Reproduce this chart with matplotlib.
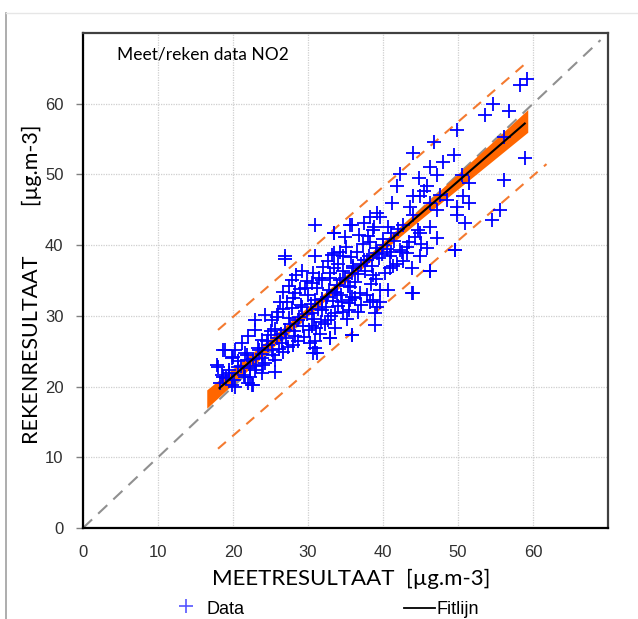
import matplotlib
matplotlib.use("Agg")
import matplotlib.pyplot as plt
from matplotlib.lines import Line2D
import numpy as np

# ---------------- data ----------------
meet = [
    58.3, 59.2, 54.7, 53.6, 56.8, 49.8, 46.8, 44.0, 56.1, 58.9, 49.5, 48.0, 46.3, 47.2, 42.2, 41.8,
    44.8, 45.8, 45.4, 50.5, 51.5, 56.1, 44.9, 44.0, 47.6, 48.5, 46.3, 41.2, 43.6, 50.7, 51.5, 49.8,
    47.2, 49.8, 55.6, 54.5, 50.9, 44.0, 39.2, 39.6, 38.3, 37.4, 35.6, 33.4, 34.9, 36.8, 38.7, 40.7,
    42.7, 44.7, 46.3, 44.9, 47.2, 45.8, 49.6, 43.2, 42.3, 40.0, 38.3, 39.2, 44.9, 42.7, 40.9, 43.8,
    46.3, 37.4, 36.0, 34.7, 33.4, 34.0, 38.7, 39.6, 43.8, 40.7, 38.7, 36.9, 35.6, 34.3, 39.2, 35.6,
    33.8, 32.9, 40.9, 41.8, 43.2,
    26.9, 30.9, 29.2, 33.2, 27.8, 26.7, 28.3, 29.6, 30.5, 31.8, 30.9, 32.5, 33.6, 34.5, 35.8, 35.4,
    33.6, 31.8, 32.7, 30.5, 29.2, 27.8, 26.3, 26.0, 27.4, 28.7, 25.2, 24.3, 22.9, 25.6, 26.9, 24.7,
    22.9, 22.0, 23.8, 26.5, 28.3, 30.5, 30.9, 32.9, 31.2, 35.8, 21.2, 20.3, 18.9, 21.6, 23.4, 25.2,
    19.8, 22.0, 23.8, 25.6, 18.0, 19.4, 20.7, 22.9, 25.6, 18.5, 19.8, 21.6, 22.0, 20.3, 22.7, 23.8,
    24.3,
    18.7, 17.8, 20.0, 22.5, 22.3, 19.8, 18.7, 30.9, 26.9, 33.4, 35.8, 35.9, 32.9, 30.9, 30.7, 38.9,
    38.9, 39.6, 44.0, 46.3, 49.6,
    24.5, 25.1, 25.8, 26.4, 27.0, 27.6, 28.1, 28.8, 29.3, 29.9, 30.4, 30.8, 31.3, 31.9, 32.4, 32.8,
    33.3, 33.9, 34.4, 34.9, 35.3, 35.8, 36.2, 36.7, 37.1, 37.6, 38.1, 38.5, 39.0, 39.4, 40.0, 40.5,
    41.0, 41.5, 42.0, 23.3, 23.9, 24.6, 22.6, 21.8, 21.0, 20.6, 19.5, 19.0, 18.3, 20.1, 21.4, 22.2,
    23.1, 24.0, 25.3, 26.1, 26.7, 27.3, 28.0, 28.6, 29.4, 30.1, 31.0, 31.7, 32.2, 33.0, 34.0, 34.7,
    35.5, 36.3, 37.0, 37.8, 38.4, 39.1, 40.2, 41.3, 42.5, 43.4, 44.2, 45.1, 25.9, 26.6, 27.2, 28.0,
    28.9, 29.8, 30.6, 31.4, 32.0, 32.7, 33.5, 34.2, 35.0, 35.7, 36.5, 37.3, 38.0, 38.8, 27.5, 28.4,
    29.0, 30.0, 31.2, 32.9, 34.6, 36.0, 37.9, 39.8, 41.1, 30.2, 31.6, 33.6, 35.2, 36.6, 38.3,
]
reken = [
    62.7, 63.5, 59.9, 58.4, 59.0, 56.3, 54.6, 53.0, 55.3, 52.3, 52.7, 51.8, 51.1, 49.9, 50.1, 48.3,
    49.5, 48.3, 47.6, 49.9, 48.8, 49.2, 46.9, 46.9, 47.1, 46.4, 45.9, 45.9, 45.4, 46.9, 45.9, 45.4,
    45.0, 44.3, 45.0, 43.6, 43.1, 44.3, 44.5, 44.0, 44.0, 43.1, 42.9, 41.7, 41.2, 41.4, 42.1, 42.6,
    42.9, 42.1, 42.6, 41.7, 41.0, 39.6, 39.3, 39.8, 39.3, 40.0, 40.5, 38.9, 38.4, 37.7, 36.7, 36.7,
    36.3, 37.9, 37.0, 38.4, 38.9, 37.4, 35.8, 33.7, 33.2, 33.7, 32.2, 33.2, 34.1, 35.1, 31.3, 32.2,
    33.2, 36.0, 38.4, 37.4, 38.9,
    38.1, 38.4, 36.3, 38.6, 35.1, 33.4, 33.2, 33.9, 34.6, 35.1, 32.2, 32.7, 33.4, 32.0, 32.7, 30.8,
    30.4, 30.8, 29.4, 30.4, 31.3, 31.1, 32.0, 30.6, 29.7, 29.4, 29.4, 30.1, 29.4, 28.2, 28.0, 27.3,
    28.0, 27.1, 26.6, 26.1, 27.1, 28.5, 26.4, 26.8, 24.7, 27.3, 26.1, 25.2, 25.2, 24.7, 25.2, 25.2,
    24.0, 23.8, 24.0, 23.8, 22.8, 22.3, 22.8, 22.3, 22.1, 21.6, 20.9, 21.4, 20.5, 20.0, 20.2, 21.9,
    23.3,
    25.2, 23.1, 24.2, 20.2, 21.4, 20.2, 21.4, 42.9, 38.5, 41.7, 42.9, 27.3, 26.8, 25.4, 24.7, 28.7,
    30.4, 32.0, 33.2, 36.3, 39.3,
    26.5, 27.8, 26.9, 27.5, 26.8, 28.9, 27.9, 29.9, 28.6, 30.2, 31.7, 29.5, 30.9, 32.4, 31.3, 33.6,
    32.1, 34.3, 33.0, 35.4, 34.2, 36.1, 34.8, 35.9, 37.4, 36.4, 38.5, 37.1, 39.6, 38.2, 40.8, 39.4,
    41.7, 40.6, 42.3, 25.4, 24.6, 25.9, 23.9, 24.4, 22.9, 23.6, 21.9, 21.2, 20.5, 21.0, 21.7, 22.6,
    22.9, 23.1, 24.4, 25.3, 24.9, 25.6, 25.9, 26.5, 27.0, 28.0, 28.3, 29.1, 28.8, 30.0, 31.4, 30.6,
    31.8, 32.5, 31.6, 33.0, 34.5, 35.2, 36.1, 37.0, 39.0, 40.5, 41.1, 40.2, 29.8, 30.9, 31.9, 32.5,
    33.8, 34.9, 36.0, 35.4, 36.9, 37.8, 36.8, 39.0, 39.7, 38.3, 39.1, 40.2, 41.3, 42.6, 34.2, 35.8,
    31.6, 33.0, 33.9, 35.3, 36.3, 36.8, 37.9, 38.7, 39.0, 26.1, 27.4, 28.3, 29.6, 30.5, 31.9,
]

fit_intercept = 3.07
fit_slope = 0.919
fit_x = [18.2, 58.9]
band_x = [16.5, 25.0, 35.0, 45.0, 59.3]
band_half = [1.3, 0.8, 0.5, 0.8, 1.6]
interval = 8.4
upper_x = [18.0, 59.2]
lower_x = [18.0, 61.8]
diag_x = [0.0, 69.0]

ticks = [0, 10, 20, 30, 40, 50, 60]

# ---------------- figure ----------------
W, H = 638, 619
fig = plt.figure(figsize=(W / 100, H / 100), dpi=100)
ax = fig.add_axes([83 / W, 1 - 528 / H, (608 - 83) / W, (528 - 33) / H])

ax.set_xlim(0, 70)
ax.set_ylim(0, 70)
ax.set_xticks(ticks)
ax.set_yticks(ticks)
ax.grid(True, color="#cfcfcf", linestyle=(0, (1, 1)), linewidth=0.9)
ax.set_axisbelow(True)

for s in ["left", "bottom"]:
    ax.spines[s].set_color("#000000")
    ax.spines[s].set_linewidth(1.6)
for s in ["right", "top"]:
    ax.spines[s].set_color("#404040")
    ax.spines[s].set_linewidth(1.6)

ax.tick_params(axis="x", length=0, pad=12, labelsize=12, labelcolor="#303030")
ax.tick_params(axis="y", length=5, width=1, color="#808080", pad=9, labelsize=12, labelcolor="#303030")
for lab in ax.get_xticklabels() + ax.get_yticklabels():
    lab.set_family("Liberation Sans")

# 1:1 line
dx = np.array(diag_x)
ax.plot(dx, dx, color="#909090", linewidth=1.5, dashes=(6, 4), zorder=2)

# confidence band
bx = np.array(band_x)
bh = np.array(band_half)
bc = fit_intercept + fit_slope * bx
ax.fill_between(bx, bc - bh, bc + bh, color="#FF6600", linewidth=0, zorder=3)

# prediction interval lines
ux = np.array(upper_x)
lx = np.array(lower_x)
ax.plot(ux, fit_intercept + fit_slope * ux + interval, color="#F47A30", linewidth=1.5, dashes=(5, 4), zorder=3)
ax.plot(lx, fit_intercept + fit_slope * lx - interval, color="#F47A30", linewidth=1.5, dashes=(5, 4), zorder=3)

# data
ax.plot(meet, reken, linestyle="none", marker="+", markersize=10, markeredgewidth=1.3,
        color="#0000FF", zorder=4)

# fit line
fx = np.array(fit_x)
ax.plot(fx, fit_intercept + fit_slope * fx, color="#000000", linewidth=1.5, zorder=5)

# title in plot
ax.text(117 / W, 1 - 55 / H, "Meet/reken data NO2", transform=fig.transFigure,
        family="Lato", fontsize=12.5, va="center", ha="left", color="#000000")

# axis labels
fig.text(351 / W, 1 - 579 / H, "MEETRESULTAAT  [µg.m-3]", family="Lato", fontsize=16,
         ha="center", va="center", color="#000000")
fig.text(32 / W, 1 - 284 / H, "REKENRESULTAAT         [µg.m-3]", family="Lato", fontsize=15.5,
         ha="center", va="center", rotation=90, color="#000000")

# legend (below)
fig.add_artist(Line2D([186 / W], [1 - 606 / H], marker="+", markersize=10, markeredgewidth=1.2,
                      color="#5555FF", linestyle="none", transform=fig.transFigure))
fig.text(206 / W, 1 - 610 / H, "Data", family="Liberation Sans", fontsize=13, ha="left", va="center")
fig.add_artist(Line2D([404 / W, 435 / W], [1 - 608 / H, 1 - 608 / H], color="#000000", linewidth=1.3,
                      transform=fig.transFigure))
fig.text(436 / W, 1 - 610 / H, "Fitlijn", family="Liberation Sans", fontsize=13, ha="left", va="center")

# outer chart frame
fig.add_artist(Line2D([6 / W, 6 / W], [0, 1 - 13 / H], color="#a0a0a0", linewidth=1.2, transform=fig.transFigure))
fig.add_artist(Line2D([6 / W, 1], [1 - 13 / H, 1 - 13 / H], color="#e6e6e6", linewidth=1.0, transform=fig.transFigure))

fig.savefig("out.png", dpi=100)
